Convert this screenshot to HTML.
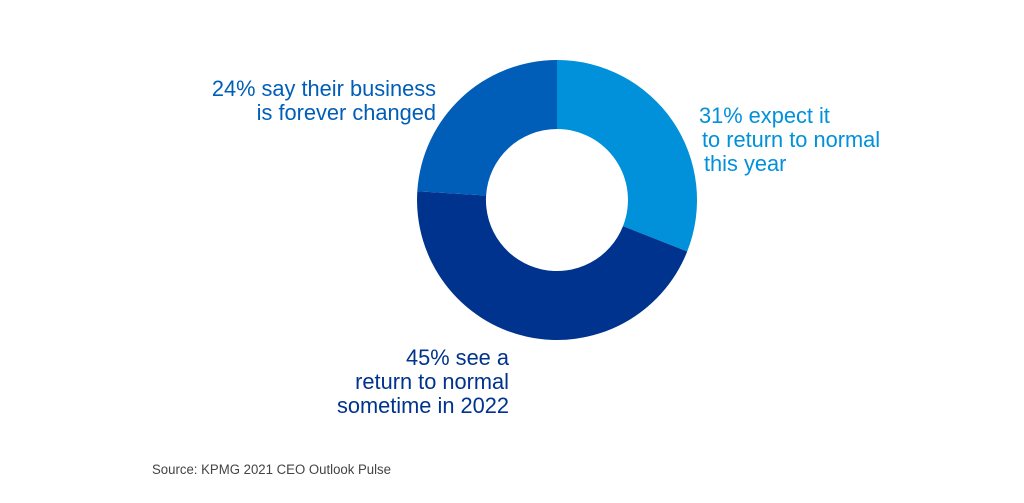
<!DOCTYPE html>
<html><head><meta charset="utf-8"><style>
html,body{margin:0;padding:0;background:#fff;}
svg{display:block}
text{font-family:"Liberation Sans",Arial,sans-serif;font-size:21.8px}
</style></head><body>
<svg width="1024" height="503" viewBox="0 0 1024 503" xmlns="http://www.w3.org/2000/svg">
<path d="M557 60 A140 140 0 0 1 687.2 251.5 L623.0 226.1 A71 71 0 0 0 557 129 Z" fill="#0091da"/>
<path d="M687.2 251.5 A140 140 0 0 1 417.3 191.2 L486.1 195.5 A71 71 0 0 0 623.0 226.1 Z" fill="#00338d"/>
<path d="M417.3 191.2 A140 140 0 0 1 557 60 L557 129 A71 71 0 0 0 486.1 195.5 Z" fill="#005eb8"/>
<g fill="#005eb8" text-anchor="end">
<text x="436" y="96">24% say their business</text>
<text x="436" y="120">is forever changed</text>
</g>
<g fill="#0091da">
<text x="699" y="123">31% expect it</text>
<text x="702" y="147">to return to normal</text>
<text x="704" y="171">this year</text>
</g>
<g fill="#00338d" text-anchor="end">
<text x="509" y="365">45% see a</text>
<text x="509" y="389">return to normal</text>
<text x="509" y="413">sometime in 2022</text>
</g>
<text x="152" y="474" fill="#444" style="font-size:13.5px" textLength="239" lengthAdjust="spacingAndGlyphs">Source: KPMG 2021 CEO Outlook Pulse</text>
</svg>
</body></html>
